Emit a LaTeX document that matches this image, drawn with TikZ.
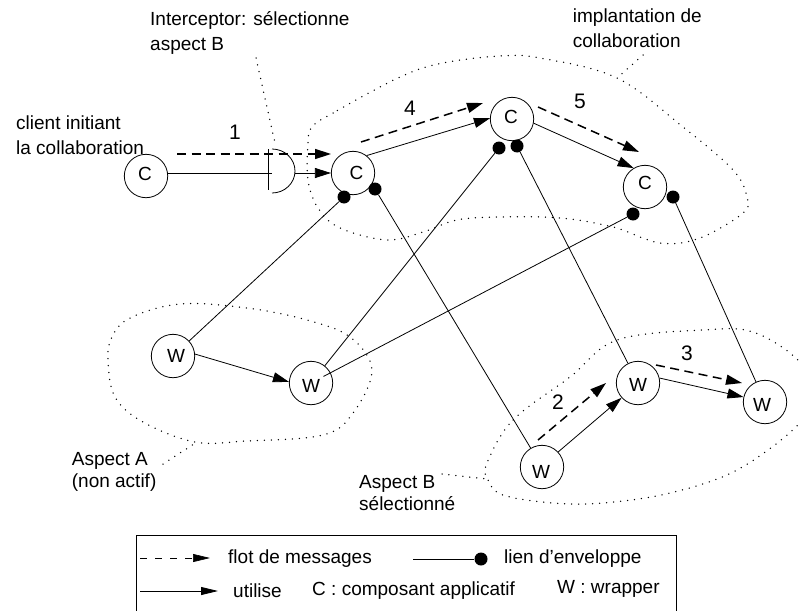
\documentclass[tikz,border=0pt]{standalone}
\usepackage{fontspec}
\setmainfont{Liberation Sans}
\usetikzlibrary{arrows.meta}
\newcommand\ctxt[3]{\makebox[0pt]{\hspace*{#1pt}\smash{\raisebox{#2pt}{#3}}}}
\tikzset{
 comp/.style={circle,draw=black,line width=0.8pt,minimum size=43.4pt,inner sep=0pt,font=\fontsize{19}{19}\selectfont},
 lab/.style={anchor=west,align=left,inner sep=0pt,font=\fontsize{19}{25}\selectfont},
 labB/.style={anchor=west,align=left,inner sep=0pt,font=\fontsize{19}{21.5}\selectfont},
 num/.style={inner sep=0pt,font=\fontsize{21}{21}\selectfont},
 dotp/.style={circle,fill=black,minimum size=13pt,inner sep=0pt},
 link/.style={line width=0.8pt},
 use/.style={line width=0.8pt,-{Triangle[length=16pt,width=10pt]}},
 msg/.style={line width=1.5pt,dash pattern=on 9pt off 5.5pt,-{Triangle[length=16pt,width=10pt]}},
 blob/.style={line width=1.5pt,dash pattern=on 0pt off 7pt,line cap=round,black},
}
\begin{document}
\begin{tikzpicture}[x=1pt,y=-1pt]
\useasboundingbox (0,0) rectangle (799,610);
% blobs
\begin{scope}
\clip (0,0) rectangle (799,610);
\draw[blob] plot[smooth cycle,tension=0.6] coordinates {(400,77)(333,113)(312,127)(308,143)(308,180)(318,208)(340,228)(387,240)(423,232)(457,220)(500,217)(560,218)(613,227)(660,243)(700,238)(743,213)(747,197)(733,170)(683,127)(617,78)(540,58)(500,56)(443,63)};
\draw[blob] plot[smooth cycle,tension=0.6] coordinates {(180,304)(130,318)(112,337)(108,360)(115,397)(143,422)(195,442)(247,441)(323,435)(353,413)(372,370)(350,337)(307,320)(247,308)};
\draw[blob] plot[smooth cycle,tension=0.6] coordinates {(487,463)(513,420)(570,377)(617,340)(703,330)(753,332)(798,360)(815,392)(798,425)(737,470)(670,493)(603,503)(553,503)(503,495)(488,480)};
\end{scope}
% nodes
\node[comp] (c0) at (146,176) {\ctxt{-2}{-4.8}{C}};
\node[comp] (c1) at (353,173) {\ctxt{7}{-6.8}{C}};
\node[comp] (c2) at (512,119) {\ctxt{-2}{-4.8}{C}};
\node[comp] (c3) at (645,187) {\ctxt{0}{-2.8}{C}};
\node[comp] (w1) at (173,356) {\ctxt{6}{-6.8}{W}};
\node[comp] (w2) at (311,383) {\ctxt{0}{-9.8}{W}};
\node[comp] (w3) at (542,467) {\ctxt{-2}{-11.8}{W}};
\node[comp] (w4) at (638,383) {\ctxt{0}{-8.8}{W}};
\node[comp] (w5) at (765,402) {\ctxt{-6}{-9.8}{W}};
\node[dotp] (d1) at (344,197) {};
\node[dotp] (d2) at (375,189) {};
\node[dotp] (d3) at (499,148) {};
\node[dotp] (d4) at (517,146) {};
\node[dotp] (d5) at (633,214) {};
\node[dotp] (d6) at (673,197) {};
% interceptor
\coordinate (it) at (268.7,149);
\coordinate (ib) at (268.7,190);
\coordinate (im) at (272,173.3);
\coordinate (ir) at (295,173);
\draw[link] (it) -- (ib);
\draw[link] (272,149) arc[start angle=90,end angle=-90,x radius=23pt,y radius=22pt];
% connectors
\draw[link] (c0.east |- im) -- (im);
\draw[use] (ir) -- (c1.west |- ir);
\draw[use] (c1.52) -- (c2.178);
\draw[use] (c2.-11) -- (c3.121);
\draw[use] (w1.5) -- (w2.177);
\draw[use] (w3.43) -- (w4.222);
\draw[use] (w4.13) -- (w5.167);
\draw[link] (w1) -- (d1);
\draw[link] (w2) -- (d3);
\draw[link,shorten <=-8pt] (w2) -- (d5);
\draw[link] (w3) -- (d2);
\draw[link] (w4) -- (d4);
\draw[link] (w5) -- (d6);
% messages
\coordinate (m1a) at (177,154); \coordinate (m1b) at (331,154);
\coordinate (m4a) at (361,142); \coordinate (m4b) at (483,103);
\coordinate (m5a) at (538,107); \coordinate (m5b) at (639,152);
\coordinate (m2a) at (538,440); \coordinate (m2b) at (606,383);
\coordinate (m3a) at (656,365); \coordinate (m3b) at (742,383);
\draw[msg] (m1a) -- (m1b);
\draw[msg] (m4a) -- (m4b);
\draw[msg] (m5a) -- (m5b);
\draw[msg] (m2a) -- (m2b);
\draw[msg] (m3a) -- (m3b);
% numbers
\node[num] (n1) at (235,132) {1};
\node[num] (n4) at (410,108) {4};
\node[num] (n5) at (580,101) {5};
\node[num] (n2) at (558,402) {2};
\node[num] (n3) at (687,353) {3};
% labels
\node[lab] (tclient) at (16,135) {client initiant\\la collaboration};
\node[lab] (tint) at (150,33) {Interceptor: sélectionne\\aspect B};
\node[lab] (timp) at (572.7,28) {implantation de\\collaboration};
\node[labB] (tA) at (71.7,472) {Aspect A\\(non actif)};
\node[labB] (tB) at (359,493) {Aspect B\\sélectionné};
% leaders
\coordinate (l1a) at (256,58); \coordinate (l1b) at (275,143);
\coordinate (l2a) at (643,55); \coordinate (l2b) at (617,78);
\coordinate (l3a) at (163,464); \coordinate (l3b) at (197,442);
\coordinate (l4a) at (442,474); \coordinate (l4b) at (487,479);
\draw[blob] (l1a) -- (l1b);
\draw[blob] (l2a) -- (l2b);
\draw[blob] (l3a) -- (l3b);
\draw[blob] (l4a) -- (l4b);
% legend
\node[draw=black,line width=0.8pt,minimum width=540pt,minimum height=90pt,anchor=north west,inner sep=0pt] (legend) at (136,534.7) {};
\coordinate (a1) at (140,558); \coordinate (a2) at (210,558);
\draw[line width=0.6pt,dash pattern=on 7pt off 8pt,-{Triangle[length=17pt,width=8pt]}] (a1) -- (a2);
\coordinate (a3) at (140,591); \coordinate (a4) at (218,591);
\draw[line width=0.8pt,-{Triangle[length=17pt,width=8pt]}] (a3) -- (a4);
\coordinate (a5) at (413,559);
\node[dotp] (a6) at (481,559) {};
\draw[link] (a5) -- (a6);
\node[lab] (t1) at (228,558.5) {flot de messages};
\node[lab] (t2) at (504,559) {lien d’enveloppe};
\node[lab] (t3) at (233,591) {utilise};
\node[lab] (t4) at (312,591) {C : composant applicatif};
\node[lab] (t5) at (557,589) {W : wrapper};
\end{tikzpicture}
\end{document}
